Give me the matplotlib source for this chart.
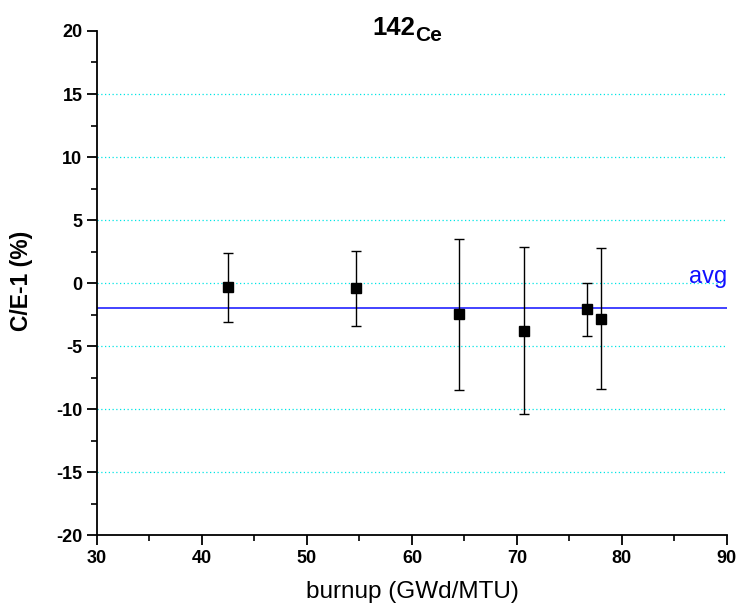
import matplotlib
matplotlib.use("Agg")
import matplotlib.pyplot as plt
from matplotlib.ticker import MultipleLocator

plt.rcParams["font.family"] = ["Liberation Sans", "DejaVu Sans"]
plt.rcParams["axes.unicode_minus"] = False

# data
burnup = [42.45, 54.7, 64.45, 70.7, 76.7, 78.0]
ce_ratio = [-0.35, -0.43, -2.48, -3.78, -2.09, -2.83]
err_lo = [2.78, 3.0, 6.0, 6.6, 2.1, 5.6]
err_hi = [2.73, 3.0, 6.0, 6.6, 2.1, 5.6]
avg = -2.0
grid_levels = [-15, -10, -5, 0, 5, 10, 15]

fig = plt.figure(figsize=(7.38, 6.15), dpi=100)
ax = fig.add_axes([0.1314, 0.130, 0.8536, 0.8196])

for g in grid_levels:
    ax.axhline(g, color="#00e5e5", linestyle=(0, (1, 2)), linewidth=0.9, zorder=0)

ax.axhline(avg, color="#1010ff", linewidth=1.1, zorder=1)
ax.text(90, avg + 2.0, "avg", color="#1010ff", fontsize=17, ha="right", va="baseline")

ax.errorbar(burnup, ce_ratio, yerr=[err_lo, err_hi], fmt="s", color="black",
            ecolor="black", elinewidth=1.0, capsize=3.8, capthick=1.0,
            markersize=7.5, zorder=3)

ax.set_xlim(30, 90)
ax.set_ylim(-20, 20)
ax.xaxis.set_major_locator(MultipleLocator(10))
ax.xaxis.set_minor_locator(MultipleLocator(5))
ax.yaxis.set_major_locator(MultipleLocator(5))
ax.yaxis.set_minor_locator(MultipleLocator(2.5))

for side in ["top", "right"]:
    ax.spines[side].set_visible(False)
for side in ["left", "bottom"]:
    ax.spines[side].set_linewidth(1.3)

ax.tick_params(which="major", direction="out", length=7, width=1.3, labelsize=13)
ax.tick_params(which="minor", direction="out", length=4, width=1.2)
for lbl in ax.get_xticklabels() + ax.get_yticklabels():
    lbl.set_fontweight("bold")

ax.set_xlabel("burnup (GWd/MTU)", fontsize=17.5)
ax.xaxis.set_label_coords(0.5, -0.092)
ax.set_ylabel("C/E-1 (%)", fontsize=16.5, fontweight="bold")
ax.yaxis.set_label_coords(-0.102, 0.505)

fig.text(0.504, 0.955, "142", fontsize=18.5, fontweight="bold", ha="left", va="center")
fig.text(0.5625, 0.943, "Ce", fontsize=15, fontweight="bold", ha="left", va="center")

fig.savefig("out.png", dpi=100)
